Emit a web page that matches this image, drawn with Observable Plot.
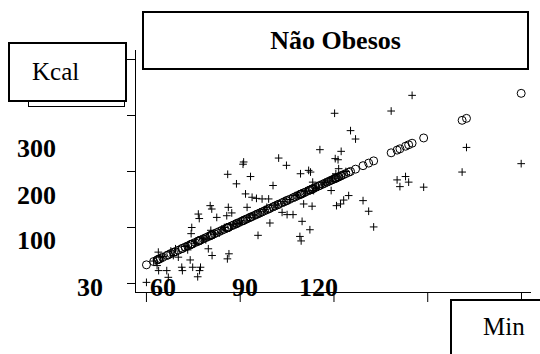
<!DOCTYPE html>
<html>
<head>
<meta charset="utf-8">
<script src="https://cdn.jsdelivr.net/npm/d3@7"></script>
<script src="https://cdn.jsdelivr.net/npm/@observablehq/plot@0.6"></script>
<style>
  html, body { margin: 0; padding: 0; background: #fff; }
  #chart { width: 540px; height: 354px; }
  #chart text.ann { font-family: "Liberation Serif", serif; }
</style>
</head>
<body>
<div id="chart"></div>
<script>
// ---- data ----
const minutes = [60.0,62.3,63.4,63.8,63.9,64.4,65.2,66.5,67.0,67.8,68.6,69.3,70.2,71.3,71.5,72.4,73.2,74.0,74.3,74.5,74.8,75.6,76.4,76.6,76.9,77.0,77.3,78.2,79.0,79.8,80.4,80.6,80.9,81.0,81.7,82.5,83.3,84.1,84.9,85.7,85.9,86.0,86.2,86.4,87.3,88.0,88.8,88.9,89.6,90.4,90.9,91.1,91.7,92.2,93.0,93.3,93.8,94.5,95.2,95.7,96.3,97.0,97.8,98.5,99.1,99.5,100.5,101.2,102.0,102.3,103.4,104.1,104.8,105.0,105.8,106.9,107.6,108.3,109.1,109.3,109.5,109.8,110.3,110.9,111.9,112.3,112.5,113.0,113.2,113.5,114.2,115.0,115.5,116.3,117.0,117.8,118.5,119.1,119.6,120.2,120.4,120.6,120.8,121.3,121.5,122.1,122.3,123.1,123.8,124.7,125.3,126.9,129.3,131.1,132.7,138.3,140.2,141.1,142.9,143.9,145.0,148.7,161.0,162.4,179.9];
const kcalObserved = [2,40,32,56,23,47,48,23,11,58,50,62,47,29,23,66,60,42,89,100,29,72,12,124,116,23,29,80,78,62,139,95,133,50,88,118,90,97,100,121,44,195,136,53,126,105,178,107,108,112,213,217,160,136,118,191,154,122,152,86,128,151,132,136,151,108,175,140,142,224,127,146,211,123,150,123,157,158,84,196,76,111,142,165,202,96,199,138,181,166,170,172,239,176,180,181,183,166,188,304,223,196,139,221,205,142,236,149,200,157,273,258,148,129,101,308,185,173,191,181,336,172,199,243,214];
const kcalFitted = [33.3,39.2,42.0,43.0,43.3,44.5,46.6,49.9,51.2,53.2,55.3,57.1,59.4,62.2,62.7,65.0,67.0,69.1,69.8,70.3,71.1,73.2,75.2,75.7,76.5,76.7,77.5,79.8,81.8,83.9,85.4,85.9,86.7,87.0,88.7,90.8,92.8,94.9,96.9,99.0,99.5,99.7,100.2,100.8,103.1,104.8,106.9,107.1,108.9,111.0,112.2,112.8,114.3,115.6,117.6,118.4,119.7,121.4,123.2,124.5,126.0,127.8,129.9,131.7,133.2,134.2,136.8,138.6,140.6,141.4,144.2,146.0,147.8,148.3,150.3,153.1,154.9,156.7,158.7,159.3,159.8,160.5,161.8,163.3,165.9,166.9,167.4,168.7,169.2,170.0,171.8,173.8,175.1,177.1,178.9,181.0,182.8,184.3,185.6,187.1,187.6,188.1,188.6,189.9,190.4,192.0,192.5,194.5,196.3,198.6,200.1,204.2,210.4,215.0,219.0,233.4,238.2,240.5,245.1,247.7,250.5,259.9,291.4,294.9,339.6];

const xTicks = [60, 90, 120, 150, 180];
const yTicks = [0, 100, 200, 300, 400];
const xTickLabels = ["60", "90", "120"];
const yTickLabels = ["300", "200", "100", "30"];
const titleText = "Não Obesos";
const yLabelText = "Kcal";
const xLabelText = "Min";

// ---- layout ----
const xDomain = [56.5, 183.2];
const yDomain = [-16.1, 416.1];
const FONT = "Liberation Serif, serif";

const obs = minutes.map((m, i) => ({min: m, kcal: kcalObserved[i], fit: kcalFitted[i]}));

const chart = Plot.plot({
  width: 540,
  height: 354,
  marginLeft: 135,
  marginRight: 9,
  marginTop: 50,
  marginBottom: 62,
  x: {domain: xDomain},
  y: {domain: yDomain},
  style: {background: "#fff", color: "#000"},
  marks: [
    Plot.ruleX([xDomain[0]], {stroke: "#000", strokeWidth: 1}),
    Plot.ruleY([yDomain[0]], {stroke: "#000", strokeWidth: 1}),
    Plot.axisX({ticks: xTicks, tickSize: 10, tickFormat: () => "", label: null, stroke: "#000"}),
    Plot.axisY({ticks: yTicks, tickSize: 8, tickFormat: () => "", label: null, stroke: "#000"}),
    Plot.dot(obs, {x: "min", y: "kcal", symbol: "plus", r: 2.6, stroke: "#000", strokeWidth: 1}),
    Plot.dot(obs, {x: "min", y: "fit", symbol: "circle", r: 4, stroke: "#000", strokeWidth: 1, fill: "none"})
  ]
});

document.getElementById("chart").appendChild(chart);

// ---- annotation boxes and labels (drawn on top of the plot) ----
const svg = d3.select(chart);
const g = svg.append("g").attr("fill", "#000");

function label(x, y, txt, size, weight, anchor) {
  g.append("text").attr("class", "ann")
    .attr("x", x).attr("y", y)
    .attr("text-anchor", anchor)
    .style("font-family", FONT)
    .style("font-size", size + "px")
    .style("font-weight", weight)
    .text(txt);
}

// title box
g.append("rect").attr("x", 143).attr("y", 12).attr("width", 385).attr("height", 57)
  .attr("fill", "#fff").attr("stroke", "#000").attr("stroke-width", 2);
label(335.5, 49, titleText, 26, "bold", "middle");

// y label box with shadow
g.append("rect").attr("x", 28.5).attr("y", 60.5).attr("width", 96).attr("height", 46)
  .attr("fill", "#fff").attr("stroke", "#000").attr("stroke-width", 1);
g.append("rect").attr("x", 9).attr("y", 43).attr("width", 117).attr("height", 58)
  .attr("fill", "#fff").attr("stroke", "#000").attr("stroke-width", 2);
label(32, 80, yLabelText, 25, "normal", "start");

// x label box
g.append("rect").attr("x", 451).attr("y", 300).attr("width", 100).attr("height", 70)
  .attr("fill", "#fff").attr("stroke", "#000").attr("stroke-width", 2);
label(483, 335, xLabelText, 25, "normal", "start");

// tick labels (displaced, as in the reference)
const yLabPos = [[56, 157], [56, 204], [56, 249], [103, 296]];
yTickLabels.forEach((t, i) => label(yLabPos[i][0], yLabPos[i][1], t, 26, "bold", "end"));
const xLabPos = [150, 232, 299];
xTickLabels.forEach((t, i) => label(xLabPos[i], 296, t, 26, "bold", "start"));
</script>
</body>
</html>
